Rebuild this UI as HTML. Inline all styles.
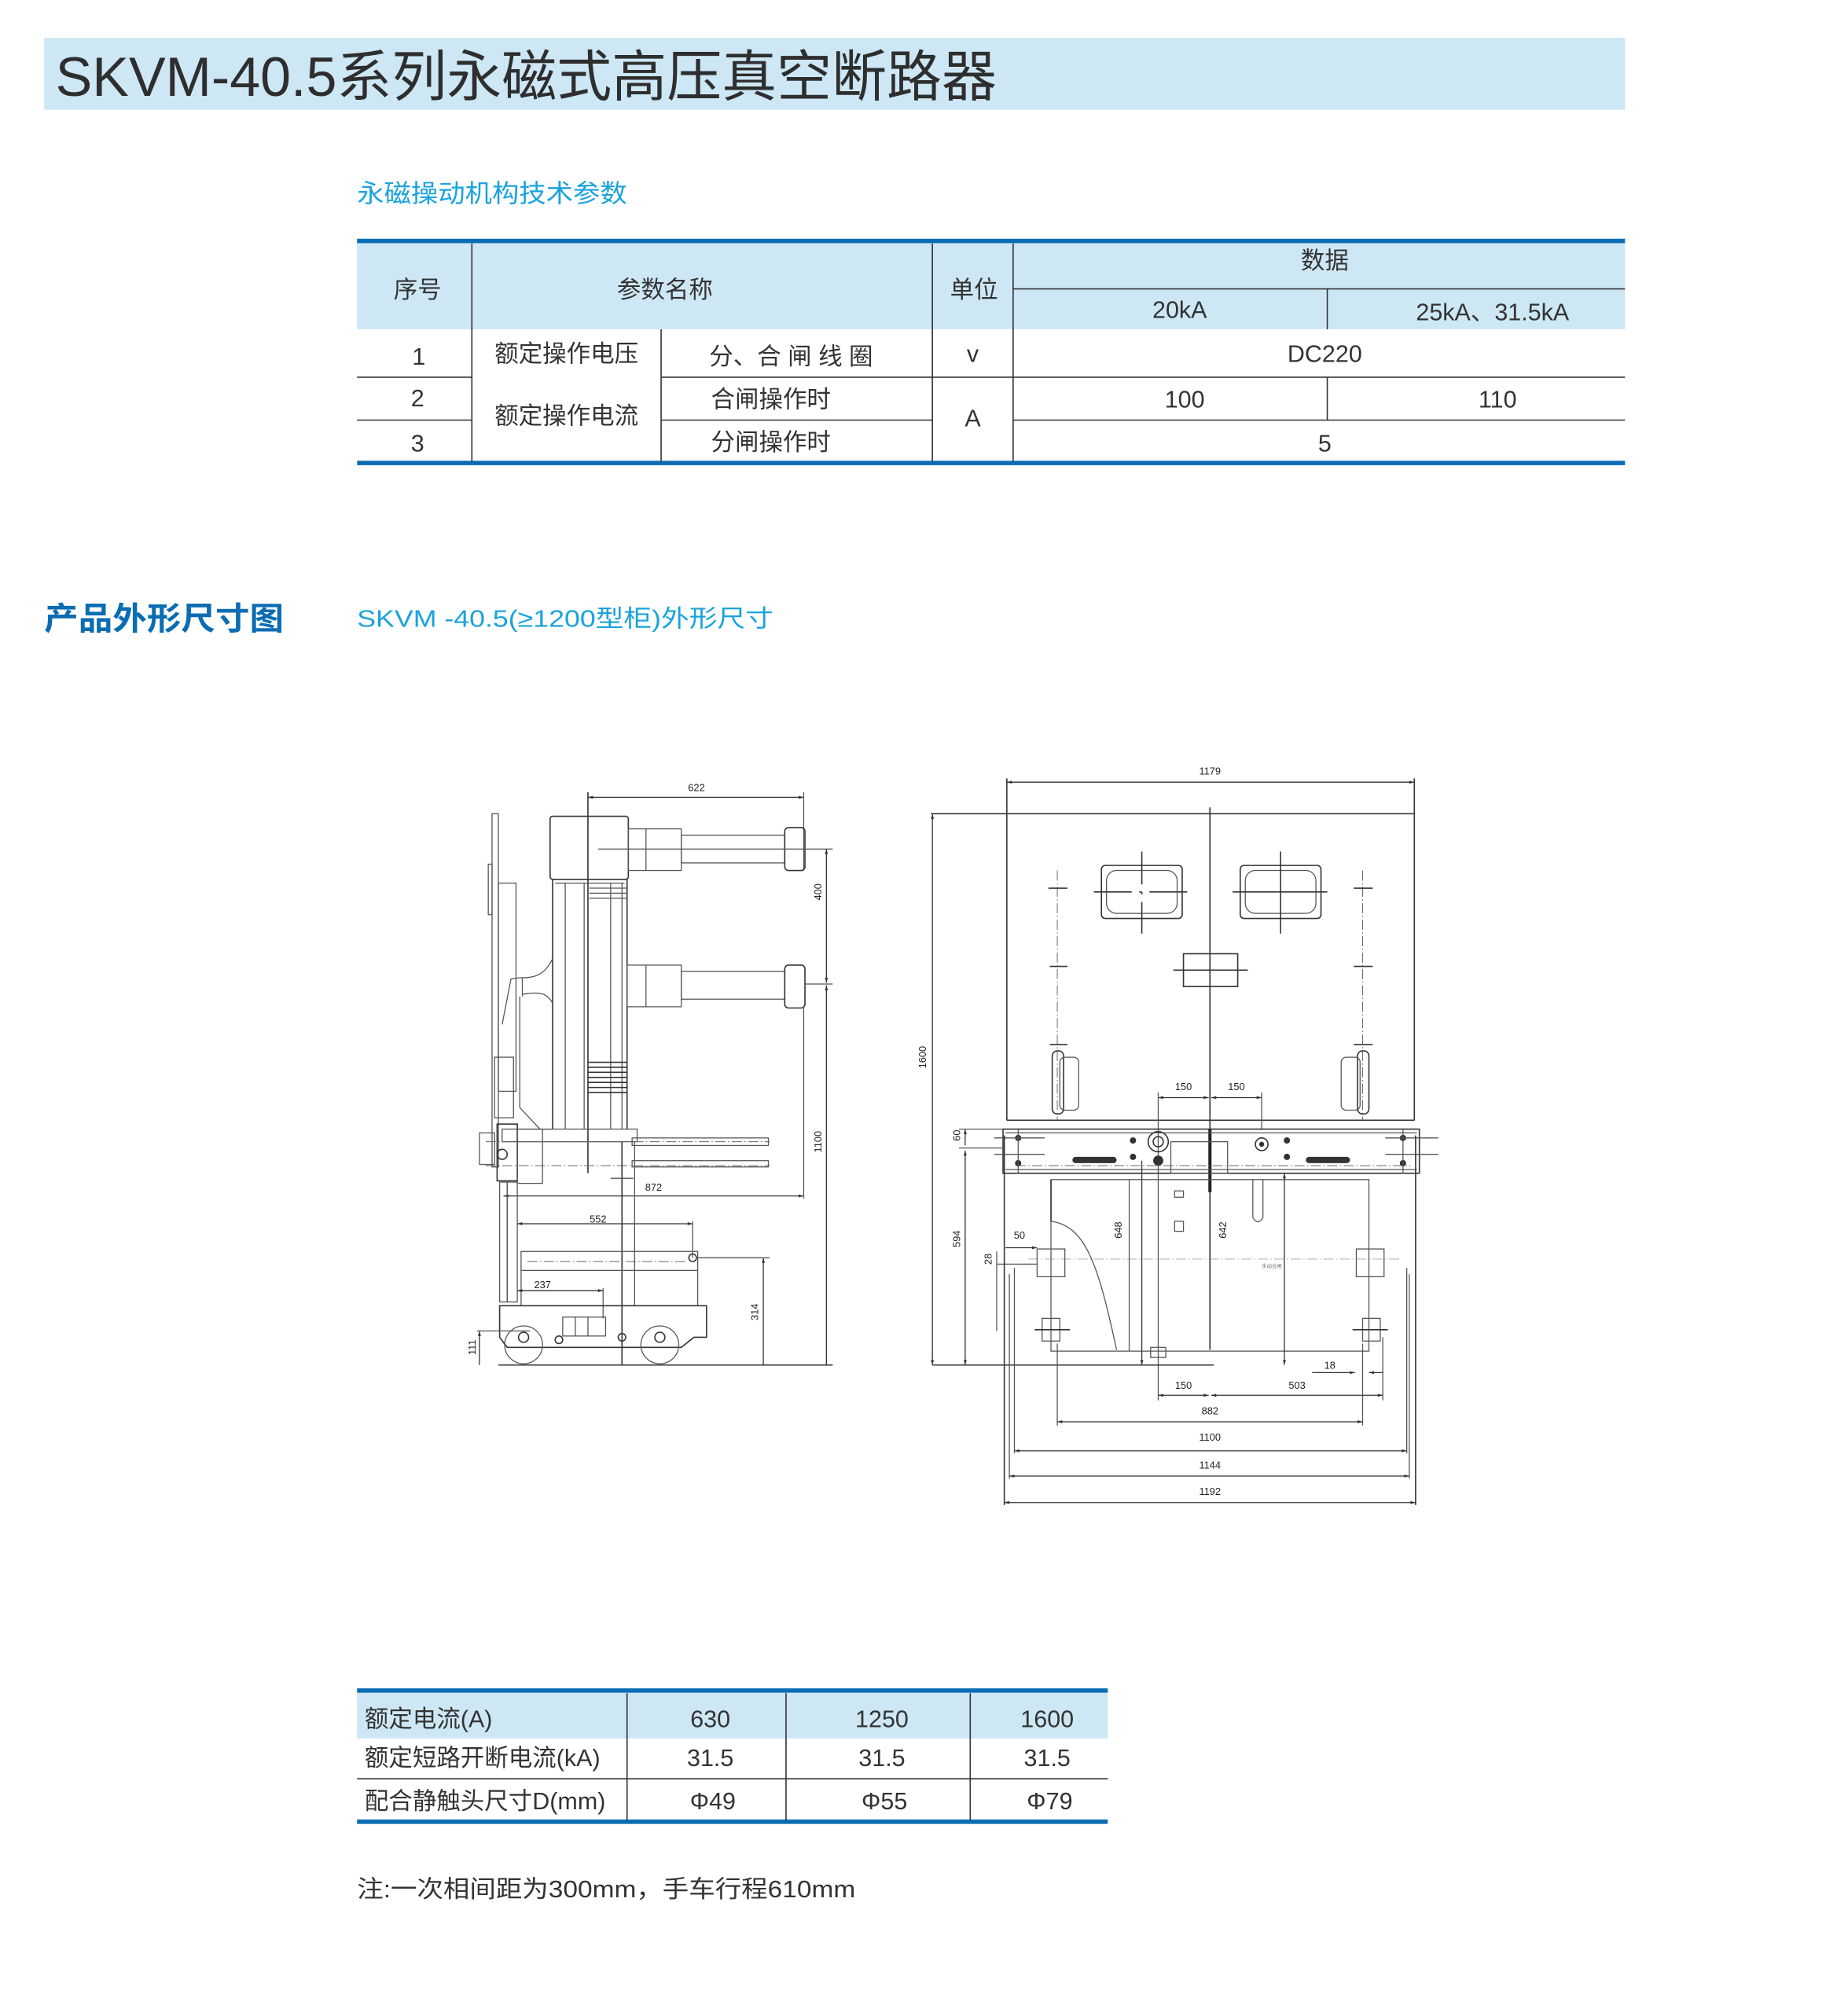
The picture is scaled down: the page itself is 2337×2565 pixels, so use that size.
<!DOCTYPE html>
<html><head><meta charset="utf-8"><style>
html,body{margin:0;padding:0;background:#fff;}
svg{display:block;}
text{font-family:"Liberation Sans","Noto Sans CJK SC",sans-serif;fill:#333;}
.t{font-size:19px;}
.d{font-size:8px;fill:#222;}
.l{stroke:#555;stroke-width:0.8;fill:none;}
.k{stroke:#333;stroke-width:1;fill:none;}
.c{stroke:#666;stroke-width:0.6;fill:none;stroke-dasharray:8 2 1 2;}
.g{stroke:#333;stroke-width:0.8;fill:none;}
</style></head><body>
<svg width="2337" height="2565" viewBox="0 0 1456 1598" preserveAspectRatio="none" xmlns="http://www.w3.org/2000/svg">
<defs>
<marker id="a" viewBox="0 0 10 10" refX="10" refY="5" markerWidth="7" markerHeight="5" orient="auto-start-reverse"><path d="M0,2 L10,5 L0,8z" fill="#333"/></marker>
</defs>
<!-- Title -->
<rect x="35" y="30" width="1253" height="57" fill="#cde7f5"/>
<text x="44" y="76" style="font-size:44px;fill:#2e2e2e" textLength="746" lengthAdjust="spacingAndGlyphs">SKVM-40.5系列永磁式高压真空断路器</text>
<text x="283" y="160" style="font-size:20px;fill:#1aa3dc" textLength="214" lengthAdjust="spacingAndGlyphs">永磁操动机构技术参数</text>

<!-- Table 1 -->
<rect x="283" y="191" width="1005" height="70" fill="#cde7f5"/>
<line x1="283" y1="191" x2="1288" y2="191" stroke="#0a6db3" stroke-width="3.5"/>
<line x1="283" y1="367" x2="1288" y2="367" stroke="#0a6db3" stroke-width="3.5"/>
<g stroke="#333" stroke-width="1">
<line x1="374" y1="193" x2="374" y2="366"/>
<line x1="524" y1="261" x2="524" y2="366"/>
<line x1="739" y1="193" x2="739" y2="366"/>
<line x1="803" y1="193" x2="803" y2="366"/>
<line x1="1052" y1="229" x2="1052" y2="261"/>
<line x1="1052" y1="299" x2="1052" y2="333"/>
<line x1="803" y1="229" x2="1288" y2="229"/>
<line x1="283" y1="299" x2="374" y2="299"/>
<line x1="524" y1="299" x2="1288" y2="299"/>
<line x1="283" y1="333" x2="374" y2="333"/>
<line x1="524" y1="333" x2="739" y2="333"/>
<line x1="803" y1="333" x2="1288" y2="333"/>
</g>
<g class="t" text-anchor="middle">
<text x="331" y="236">序号</text>
<text x="527" y="236">参数名称</text>
<text x="772" y="236">单位</text>
<text x="1050" y="213">数据</text>
<text x="935" y="252">20kA</text>
<text x="1183" y="254">25kA、31.5kA</text>
<text x="332" y="289">1</text>
<text x="449" y="287">额定操作电压</text>
<text x="627" y="289">分、合 闸 线 圈</text>
<text x="771" y="287">v</text>
<text x="1050" y="287">DC220</text>
<text x="331" y="322">2</text>
<text x="611" y="323">合闸操作时</text>
<text x="939" y="323">100</text>
<text x="1187" y="323">110</text>
<text x="449" y="336">额定操作电流</text>
<text x="771" y="338">A</text>
<text x="331" y="358">3</text>
<text x="611" y="357">分闸操作时</text>
<text x="1050" y="358">5</text>
</g>

<!-- Section heading -->
<text x="35" y="499" style="font-size:25px;font-weight:bold;fill:#0a6db3" textLength="190" lengthAdjust="spacingAndGlyphs">产品外形尺寸图</text>
<text x="283" y="497" style="font-size:19px;fill:#1aa3dc" textLength="330" lengthAdjust="spacingAndGlyphs">SKVM -40.5(≥1200型柜)外形尺寸</text>

<!-- LEFT DRAWING -->
<g>
<line x1="466" y1="632" x2="637" y2="632" class="g" marker-start="url(#a)" marker-end="url(#a)"/>
<text x="552" y="627" class="d" text-anchor="middle">622</text>
<line x1="466" y1="628" x2="466" y2="930" class="k"/>
<line x1="637" y1="628" x2="637" y2="690" class="l"/>
<rect x="390" y="645" width="5" height="280" class="l"/>
<rect x="387" y="685" width="3" height="40" class="l"/>
<rect x="395" y="700" width="14" height="165" class="l"/>
<rect x="436" y="647" width="62" height="50" rx="2" class="k"/>
<rect x="498" y="657" width="42" height="33" class="l"/>
<line x1="512" y1="657" x2="512" y2="690" class="l"/>
<rect x="540" y="662" width="82" height="22" class="l"/>
<rect x="622" y="656" width="16" height="34" rx="3" class="k"/>
<line x1="474" y1="673" x2="660" y2="673" class="l"/>
<path d="M438,697 L438,895 M497,697 L497,895" class="k"/>
<path d="M440,700 L495,700" class="l"/>
<line x1="448" y1="700" x2="448" y2="895" class="l"/>
<line x1="463" y1="700" x2="463" y2="895" class="l"/>
<line x1="484" y1="700" x2="484" y2="895" class="l"/>
<line x1="493" y1="700" x2="493" y2="895" class="l"/>
<g class="l">
<line x1="467" y1="704" x2="497" y2="704"/><line x1="467" y1="708" x2="497" y2="708"/><line x1="467" y1="712" x2="497" y2="712"/>
</g>
<g class="k">
<line x1="466" y1="842" x2="497" y2="842"/><line x1="466" y1="846" x2="497" y2="846"/><line x1="466" y1="850" x2="497" y2="850"/>
<line x1="466" y1="854" x2="497" y2="854"/><line x1="466" y1="858" x2="497" y2="858"/><line x1="466" y1="862" x2="497" y2="862"/>
<line x1="466" y1="866" x2="497" y2="866"/>
</g>
<rect x="497" y="765" width="43" height="33" class="l"/>
<line x1="512" y1="765" x2="512" y2="798" class="l"/>
<rect x="540" y="770" width="82" height="22" class="l"/>
<rect x="622" y="765" width="16" height="34" rx="3" class="k"/>
<line x1="638" y1="780" x2="660" y2="780" class="l"/>
<path d="M438,760 C432,772 425,775 414,775 L412,775 L405,776 L398,812 M414,775 L414,790 M438,795 C432,785 425,787 414,788" class="l"/>
<path d="M412,790 L412,878 L428,895 L438,895" class="l"/>
<rect x="392" y="838" width="15" height="48" class="l"/>
<rect x="398" y="895" width="107" height="10" class="l"/>
<rect x="394" y="891" width="16" height="45" class="k"/>
<rect x="410" y="895" width="20" height="43" class="l"/>
<line x1="385" y1="905" x2="610" y2="905" class="c"/>
<line x1="385" y1="924" x2="610" y2="924" class="c"/>
<rect x="501" y="902" width="108" height="6" class="l"/>
<rect x="501" y="920" width="108" height="5" class="l"/>
<circle cx="398" cy="915" r="4" class="k"/>
<rect x="380" y="898" width="12" height="25" class="l"/>
<line x1="493" y1="905" x2="493" y2="1082" class="k"/>
<line x1="484" y1="934" x2="502" y2="934" class="l"/>
<line x1="399" y1="948" x2="637" y2="948" class="g" marker-start="url(#a)" marker-end="url(#a)"/>
<text x="518" y="944" class="d" text-anchor="middle">872</text>
<line x1="637" y1="798" x2="637" y2="950" class="l"/>
<rect x="396" y="937" width="6" height="95" class="l"/>
<rect x="402" y="937" width="8" height="95" class="l"/>
<line x1="410" y1="970" x2="549" y2="970" class="g" marker-start="url(#a)" marker-end="url(#a)"/>
<text x="474" y="969" class="d" text-anchor="middle">552</text>
<line x1="549" y1="968" x2="549" y2="997" class="l"/>
<rect x="413" y="992" width="140" height="15" class="l"/>
<line x1="418" y1="1000" x2="545" y2="1000" class="c"/>
<circle cx="549" cy="997" r="3" class="k"/>
<line x1="413" y1="1007" x2="413" y2="1035" class="l"/>
<line x1="553" y1="1007" x2="553" y2="1035" class="l"/>
<line x1="503" y1="905" x2="503" y2="1035" class="l"/>
<line x1="410" y1="1023" x2="478" y2="1023" class="g" marker-start="url(#a)" marker-end="url(#a)"/>
<text x="430" y="1021" class="d" text-anchor="middle">237</text>
<line x1="478" y1="1021" x2="478" y2="1045" class="l"/>
<path d="M396,1035 L560,1035 L560,1060 L550,1060 L540,1068 L402,1068 L396,1060 Z" class="k"/>
<rect x="446" y="1044" width="34" height="15" class="l"/>
<line x1="456" y1="1044" x2="456" y2="1059" class="l"/>
<line x1="466" y1="1044" x2="466" y2="1059" class="l"/>
<circle cx="415" cy="1066" r="15" class="l"/>
<circle cx="523" cy="1066" r="15" class="l"/>
<circle cx="415" cy="1060" r="4" class="k"/><circle cx="523" cy="1060" r="4" class="k"/>
<circle cx="493" cy="1060" r="3" class="k"/><circle cx="443" cy="1062" r="3" class="k"/>
<line x1="553" y1="997" x2="610" y2="997" class="l"/>
<line x1="605" y1="997" x2="605" y2="1082" class="g" marker-start="url(#a)"/>
<text x="601" y="1040" class="d" text-anchor="middle" transform="rotate(-90 601 1040)">314</text>
<line x1="655" y1="673" x2="655" y2="779" class="g" marker-start="url(#a)" marker-end="url(#a)"/>
<line x1="655" y1="781" x2="655" y2="1082" class="g" marker-start="url(#a)"/>
<text x="651" y="707" class="d" text-anchor="middle" transform="rotate(-90 651 707)">400</text>
<text x="651" y="905" class="d" text-anchor="middle" transform="rotate(-90 651 905)">1100</text>
<line x1="378" y1="1055" x2="420" y2="1055" class="l"/>
<line x1="380" y1="1055" x2="380" y2="1082" class="g" marker-start="url(#a)"/>
<text x="377" y="1068" class="d" text-anchor="middle" transform="rotate(-90 377 1068)">111</text>
<line x1="395" y1="1082" x2="660" y2="1082" class="k"/>
</g>

<!-- RIGHT DRAWING -->
<g>
<line x1="798" y1="620" x2="1121" y2="620" class="g" marker-start="url(#a)" marker-end="url(#a)"/>
<text x="959" y="614" class="d" text-anchor="middle">1179</text>
<line x1="798" y1="617" x2="798" y2="888" class="k"/>
<line x1="1121" y1="617" x2="1121" y2="888" class="k"/>
<line x1="738" y1="645" x2="1121" y2="645" class="k"/>
<line x1="798" y1="888" x2="1121" y2="888" class="k"/>
<line x1="959" y1="640" x2="959" y2="1070" class="k"/>
<line x1="959" y1="895" x2="959" y2="945" stroke="#222" stroke-width="2.5"/>
<line x1="739" y1="645" x2="739" y2="1082" class="g" marker-start="url(#a)" marker-end="url(#a)"/>
<text x="734" y="838" class="d" text-anchor="middle" transform="rotate(-90 734 838)">1600</text>
<rect x="873" y="686" width="64" height="42" rx="3" class="k"/>
<rect x="877" y="690" width="56" height="34" rx="8" class="l"/>
<line x1="867" y1="707" x2="942" y2="707" class="k" stroke-dasharray="30 6 2 6"/>
<line x1="905" y1="675" x2="905" y2="740" class="k" stroke-dasharray="26 6 2 6"/>
<rect x="983" y="686" width="64" height="42" rx="3" class="k"/>
<rect x="987" y="690" width="56" height="34" rx="8" class="l"/>
<line x1="977" y1="707" x2="1052" y2="707" class="k"/>
<line x1="1015" y1="675" x2="1015" y2="740" class="k"/>
<rect x="938" y="756" width="43" height="26" class="k"/>
<line x1="930" y1="769" x2="989" y2="769" class="k"/>
<line x1="838" y1="690" x2="838" y2="888" class="c"/>
<line x1="1080" y1="690" x2="1080" y2="888" class="c"/>
<g class="k">
<line x1="831" y1="704" x2="846" y2="704"/><line x1="832" y1="766" x2="846" y2="766"/><line x1="832" y1="828" x2="846" y2="828"/>
<line x1="1073" y1="704" x2="1088" y2="704"/><line x1="1073" y1="766" x2="1088" y2="766"/><line x1="1073" y1="828" x2="1088" y2="828"/>
</g>
<rect x="834" y="833" width="9" height="50" rx="4" class="k"/>
<rect x="840" y="838" width="15" height="42" rx="4" class="l"/>
<rect x="1076" y="833" width="9" height="50" rx="4" class="k"/>
<rect x="1063" y="838" width="15" height="42" rx="4" class="l"/>
<line x1="918" y1="870" x2="958" y2="870" class="g" marker-start="url(#a)" marker-end="url(#a)"/>
<line x1="960" y1="870" x2="1000" y2="870" class="g" marker-start="url(#a)" marker-end="url(#a)"/>
<text x="938" y="864" class="d" text-anchor="middle">150</text>
<text x="980" y="864" class="d" text-anchor="middle">150</text>
<line x1="918" y1="866" x2="918" y2="1110" class="l"/>
<line x1="1000" y1="866" x2="1000" y2="895" class="l"/>
<rect x="795" y="895" width="330" height="35" class="k"/>
<line x1="797" y1="898" x2="1123" y2="898" class="l"/>
<line x1="797" y1="927" x2="1123" y2="927" class="l"/>
<line x1="805" y1="924" x2="1118" y2="924" class="c"/>
<rect x="850" y="917" width="35" height="5" rx="2.5" fill="#333"/>
<rect x="1035" y="917" width="35" height="5" rx="2.5" fill="#333"/>
<circle cx="918" cy="905" r="8" class="k"/><circle cx="918" cy="905" r="4" class="k"/>
<circle cx="918" cy="920" r="4" fill="#333"/>
<circle cx="1000" cy="907" r="5" class="k"/><circle cx="1000" cy="907" r="2" fill="#333"/>
<rect x="928" y="905" width="45" height="25" class="l"/>
<g fill="#333"><circle cx="807" cy="902" r="2.5"/><circle cx="807" cy="922" r="2.5"/><circle cx="1112" cy="902" r="2.5"/><circle cx="1112" cy="922" r="2.5"/><circle cx="898" cy="904" r="2.5"/><circle cx="898" cy="917" r="2.5"/><circle cx="1020" cy="904" r="2.5"/><circle cx="1020" cy="917" r="2.5"/></g>
<line x1="788" y1="902" x2="828" y2="902" class="l"/><line x1="788" y1="915" x2="828" y2="915" class="l"/>
<line x1="1098" y1="902" x2="1140" y2="902" class="l"/><line x1="1098" y1="915" x2="1140" y2="915" class="l"/>
<line x1="807" y1="895" x2="807" y2="930" class="l"/><line x1="1112" y1="895" x2="1112" y2="930" class="l"/>
<rect x="833" y="935" width="252" height="136" class="l"/>
<line x1="833" y1="935" x2="833" y2="968" class="k"/>
<path d="M833,968 C860,972 870,1000 885,1070" class="l"/>
<line x1="895" y1="935" x2="895" y2="1071" class="l"/>
<rect x="822" y="990" width="22" height="22" class="l"/>
<rect x="1075" y="990" width="22" height="22" class="l"/>
<rect x="826" y="1045" width="14" height="18" class="l"/>
<rect x="1080" y="1045" width="14" height="18" class="l"/>
<line x1="820" y1="1054" x2="848" y2="1054" class="k"/><line x1="1072" y1="1054" x2="1100" y2="1054" class="k"/>
<line x1="815" y1="998" x2="1110" y2="998" class="c" stroke-opacity="0.6"/>
<rect x="931" y="944" width="7" height="5" class="l"/>
<rect x="931" y="968" width="7" height="8" class="l"/>
<path d="M993,935 L993,965 Q997,972 1001,965 L1001,935" class="l"/>
<rect x="912" y="1068" width="12" height="8" class="l"/>
<line x1="765" y1="895" x2="765" y2="908" class="g" marker-start="url(#a)"/>
<line x1="765" y1="912" x2="765" y2="1082" class="g" marker-start="url(#a)" marker-end="url(#a)"/>
<line x1="760" y1="895" x2="795" y2="895" class="l"/>
<line x1="760" y1="910" x2="795" y2="910" class="l"/>
<text x="761" y="900" class="d" text-anchor="middle" transform="rotate(-90 761 900)">60</text>
<text x="761" y="982" class="d" text-anchor="middle" transform="rotate(-90 761 982)">594</text>
<line x1="739" y1="1082" x2="962" y2="1082" class="k"/>
<line x1="797" y1="989" x2="822" y2="989" class="g" marker-end="url(#a)"/>
<text x="808" y="982" class="d" text-anchor="middle">50</text>
<line x1="790" y1="992" x2="790" y2="1055" class="l"/>
<line x1="790" y1="1002" x2="822" y2="1002" class="l"/>
<text x="786" y="998" class="d" text-anchor="middle" transform="rotate(-90 786 998)">28</text>
<line x1="905" y1="920" x2="905" y2="1082" class="g" marker-end="url(#a)"/>
<line x1="1018" y1="930" x2="1018" y2="1082" class="g" marker-start="url(#a)" marker-end="url(#a)"/>
<text x="889" y="975" class="d" text-anchor="middle" transform="rotate(-90 889 975)">648</text>
<text x="972" y="975" class="d" text-anchor="middle" transform="rotate(-90 972 975)">642</text>
<text x="1000" y="1005" style="font-size:4px;fill:#777">手动合闸</text>
<line x1="796" y1="900" x2="796" y2="1193" class="k"/>
<line x1="1122" y1="900" x2="1122" y2="1193" class="k"/>
<line x1="804" y1="1005" x2="804" y2="1152" class="l"/>
<line x1="1115" y1="1005" x2="1115" y2="1152" class="l"/>
<line x1="800" y1="1010" x2="800" y2="1172" class="l"/>
<line x1="1117" y1="1010" x2="1117" y2="1172" class="l"/>
<line x1="838" y1="1065" x2="838" y2="1130" class="l"/>
<line x1="1080" y1="1065" x2="1080" y2="1130" class="l"/>
<line x1="1096" y1="1060" x2="1096" y2="1110" class="l"/>
<line x1="1040" y1="1088" x2="1074" y2="1088" class="g" marker-end="url(#a)"/>
<line x1="1096" y1="1088" x2="1085" y2="1088" class="g" marker-end="url(#a)"/>
<text x="1054" y="1085" class="d" text-anchor="middle">18</text>
<line x1="918" y1="1106" x2="958" y2="1106" class="g" marker-start="url(#a)" marker-end="url(#a)"/>
<line x1="960" y1="1106" x2="1096" y2="1106" class="g" marker-start="url(#a)" marker-end="url(#a)"/>
<text x="938" y="1101" class="d" text-anchor="middle">150</text>
<text x="1028" y="1101" class="d" text-anchor="middle">503</text>
<line x1="838" y1="1127" x2="1080" y2="1127" class="g" marker-start="url(#a)" marker-end="url(#a)"/>
<text x="959" y="1121" class="d" text-anchor="middle">882</text>
<line x1="804" y1="1150" x2="1115" y2="1150" class="g" marker-start="url(#a)" marker-end="url(#a)"/>
<text x="959" y="1142" class="d" text-anchor="middle">1100</text>
<line x1="800" y1="1170" x2="1117" y2="1170" class="g" marker-start="url(#a)" marker-end="url(#a)"/>
<text x="959" y="1164" class="d" text-anchor="middle">1144</text>
<line x1="796" y1="1191" x2="1122" y2="1191" class="g" marker-start="url(#a)" marker-end="url(#a)"/>
<text x="959" y="1185" class="d" text-anchor="middle">1192</text>
</g>

<!-- Table 2 -->
<rect x="283" y="1340" width="595" height="38" fill="#cde7f5"/>
<line x1="283" y1="1340" x2="878" y2="1340" stroke="#0a6db3" stroke-width="3.5"/>
<line x1="283" y1="1444" x2="878" y2="1444" stroke="#0a6db3" stroke-width="3.5"/>
<g stroke="#333" stroke-width="1">
<line x1="497" y1="1342" x2="497" y2="1443"/>
<line x1="623" y1="1342" x2="623" y2="1443"/>
<line x1="769" y1="1342" x2="769" y2="1443"/>
<line x1="283" y1="1410" x2="878" y2="1410"/>
</g>
<g class="t">
<text x="289" y="1369">额定电流(A)</text>
<text x="289" y="1400">额定短路开断电流(kA)</text>
<text x="289" y="1434">配合静触头尺寸D(mm)</text>
</g>
<g class="t" text-anchor="middle">
<text x="563" y="1369">630</text><text x="699" y="1369">1250</text><text x="830" y="1369">1600</text>
<text x="563" y="1400">31.5</text><text x="699" y="1400">31.5</text><text x="830" y="1400">31.5</text>
<text x="565" y="1434">Φ49</text><text x="701" y="1434">Φ55</text><text x="832" y="1434">Φ79</text>
</g>
<text x="283" y="1504" class="t" textLength="395" lengthAdjust="spacingAndGlyphs">注:一次相间距为300mm，手车行程610mm</text>
</svg>
</body></html>
